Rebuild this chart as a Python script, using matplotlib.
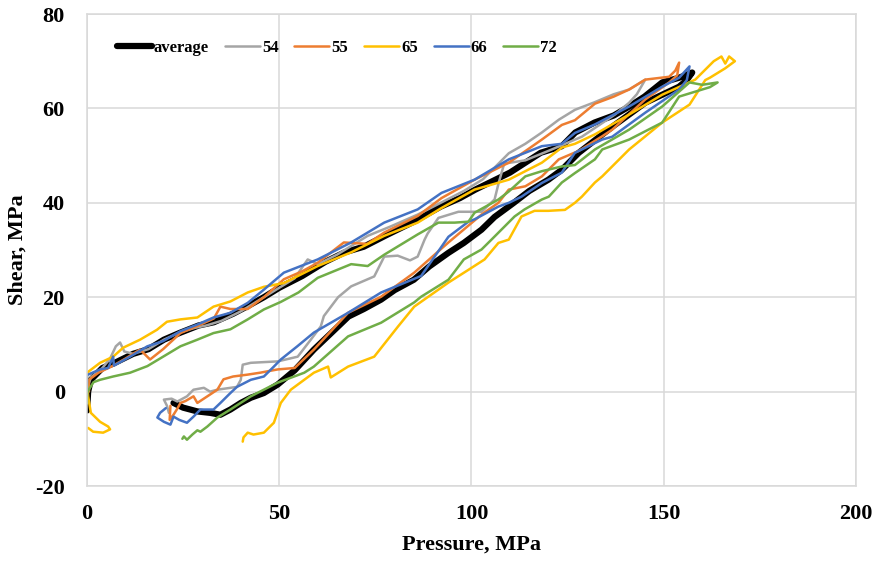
import matplotlib
matplotlib.use("Agg")
import matplotlib.pyplot as plt

plt.rcParams["font.family"] = ["Liberation Serif", "DejaVu Serif"]
plt.rcParams["font.weight"] = "bold"
plt.rcParams["axes.unicode_minus"] = False

# (pressure MPa, shear MPa): loading branch, then unloading branch
avg_pts = [
    (0, -4), (0.3, 0), (1, 2.5), (4, 5), (7, 6), (12, 8), (16, 9), (20, 11), (24, 12.4),
    (29, 14), (33, 14.7), (38, 16.5), (42, 18.2), (46, 20), (50, 22), (56, 24.5), (62, 27.5),
    (67, 29.5), (72, 30.7), (78, 33.2), (85, 36), (92, 39.2), (97, 41), (101, 42.8),
    (106, 44.8), (110, 46.4), (118, 50.6), (123.5, 52), (127, 54.9), (132, 57), (137, 58.5),
    (141, 60.4), (145, 62.5), (149.6, 65.5), (154, 66.5), (157.4, 67.6),
    (156, 66), (154, 64.6), (145.2, 61.2), (136.6, 56.1), (127.9, 50.6), (123.5, 47),
    (120, 44.9), (115, 42.5), (111, 40), (106, 37), (102.6, 34.3), (98, 31.5), (94, 29.4),
    (89, 26.5), (85, 23.7), (80, 21.5), (76.5, 19.5), (72, 17.5), (68, 15.9), (63, 12),
    (59, 8.9), (54, 4.5), (49.6, 1.5), (46, -0.3), (42.6, -1.3), (40, -2.4), (37.3, -3.8),
    (34.7, -4.9), (32, -4.5), (28.7, -4.2), (25, -3.4), (22.5, -2.4),
]

s54_pts = [
    (0, 0.5), (1, 3), (4, 5), (6, 7), (7.5, 9.6), (8.6, 10.4), (9.7, 8.5), (12, 8), (16, 9),
    (20, 11), (24, 12.5), (28, 13.5), (31, 14), (35, 15), (40, 17), (46, 20), (50, 22),
    (54, 24), (57.4, 28), (60, 27), (65, 29), (73, 33), (79, 35), (86, 37.5), (92, 40),
    (98, 42.5), (103, 45), (109.7, 50.5), (114, 52.5), (118.3, 54.9), (122.7, 57.6),
    (126.9, 59.7), (132, 61.3), (137, 63), (141, 64), (145.2, 66.1),
    (143, 63), (141, 61.2), (137.3, 58.7), (128.7, 54), (120, 51), (114, 49), (108.5, 48.3),
    (107, 44), (106, 40.7), (102.6, 38.1), (96.6, 38.1), (91.4, 36.8), (88.6, 33.5),
    (87.8, 32.2), (86, 28.6), (84, 27.8), (80.8, 28.8), (77.3, 28.6), (76.5, 27.3),
    (74.7, 24.4), (68.7, 22.3), (65.3, 20), (61.6, 16), (60.8, 13.8), (58.2, 11),
    (54.8, 7.4), (49.6, 6.4), (42.6, 6.1), (40.5, 5.7), (40, 2.5), (39, 1), (33.9, 0.4),
    (32, 0), (30.4, 0.8), (27.7, 0.4), (26, -1), (23.5, -2.1), (22, -1.5), (20, -1.7),
    (20.8, -3), (21.3, -4.5),
]

s55_pts = [
    (0.5, 0), (0.5, 2.5), (3, 4), (6.8, 5.5), (10, 7), (13.8, 8.9), (16.4, 6.8), (19.8, 9),
    (24.3, 12.4), (29, 14), (33, 15.5), (34.7, 18), (37.3, 17.5), (41.8, 17.5), (46, 20),
    (51.2, 23.8), (56, 25.5), (60, 27.3), (66.8, 31.6), (72.9, 31.3), (77.3, 33.7),
    (86, 37.2), (92.2, 41), (100.8, 44.9), (109.7, 48.5), (118.3, 53.4), (123.5, 56.5),
    (126.9, 57.5), (132.1, 61), (137, 62.5), (141, 64), (145.2, 66.1), (151.4, 66.7),
    (153, 68), (154, 69.7),
    (153.5, 67), (151.4, 65.5), (145.2, 61.9), (136.6, 55.5), (134, 54.1), (127.9, 51),
    (122.7, 49.2), (118.3, 45.6), (114, 43.5), (109.7, 42.8), (107, 40), (102.6, 37.5),
    (94, 31.6), (85.1, 25.2), (76.5, 20.1), (67.9, 16.7), (59, 8.9), (54, 5), (49.6, 4.7),
    (45, 4), (41.8, 3.6), (38, 3.2), (35.5, 2.6), (33.9, 0.4), (31.3, -1), (28.7, -2.4),
    (27.7, -1), (25.6, -2), (24.3, -2.4), (23.5, -3.6), (22.5, -4.9), (21.5, -6), (21.7, -3),
]

s65_pts = [
    (0.3, -7.7), (1.6, -8.5), (4.2, -8.7), (6, -8), (5.5, -7.4), (3.4, -6.4), (1, -4.5),
    (0.3, -1), (0, 2), (0, 4), (3.4, 6.1), (6.8, 7.4), (9.4, 9.3), (13.8, 11), (18.2, 13.1),
    (20.8, 14.8), (24.3, 15.3), (28.7, 15.7), (32.9, 18), (37.3, 19.1), (41.8, 21),
    (46, 22.2), (51.2, 23), (60, 26.6), (68.7, 29.5), (77.3, 33), (86, 35.8), (92.2, 38.9),
    (100.8, 42.8), (109.7, 44.9), (118.3, 48.5), (123.5, 51.7), (126.9, 52.5), (132.1, 54.5),
    (141, 58.7), (149.6, 62.9), (158.2, 66.1), (163, 70), (165, 71), (166, 69.5), (167, 71),
    (168.5, 70),
    (166, 68.5), (162, 66.5), (160.8, 66), (156.7, 60.8), (149.6, 57), (141, 51.3),
    (134, 45.6), (132.1, 44.3), (128.7, 41.3), (126.9, 40), (124.3, 38.5), (120, 38.3),
    (116.4, 38.3), (113, 37.1), (109.7, 32.2), (107, 31.5), (103.4, 28), (99.2, 25.8),
    (94, 23.1), (85.1, 18), (80.9, 13.8), (74.7, 7.4), (67.9, 5.3), (63.4, 3), (62.7, 5.3),
    (59, 4), (53, 0.4), (50.4, -2.4), (48.6, -6.6), (46, -8.7), (43.3, -9.1), (41.8, -8.7),
    (40.7, -9.7), (40.5, -10.6),
]

s66_pts = [
    (0, -1), (0, 3.5), (3.4, 4.7), (5.5, 5), (6.8, 7.4), (7, 5.5), (11.2, 7.4), (15.7, 9.6),
    (19.8, 10.7), (24.3, 12.8), (28.7, 14.2), (32.9, 15.7), (37.3, 16.7), (41.8, 18.8),
    (46, 21.6), (51.2, 25.2), (60, 28), (68.7, 31.6), (77.3, 35.8), (86, 38.6), (92.2, 42.1),
    (100.8, 44.9), (109.7, 49.2), (118.3, 52), (123.5, 52.5), (126.9, 54.8), (132.1, 56.6),
    (141, 60.4), (149.6, 64.6), (154, 66.5), (156.7, 68.9),
    (156, 66), (154, 64), (145.2, 59.1), (136.6, 54), (134, 53.4), (126.9, 50.6),
    (123.5, 46.4), (118.3, 44.2), (113, 41.3), (109.7, 40), (107, 39.2), (100.8, 36.5),
    (99.2, 36), (94, 32.8), (86.9, 24.5), (76.5, 21), (67.9, 16.7), (59, 12.5), (54.7, 9.6),
    (50.4, 6.8), (48.6, 5.3), (46, 3.2), (42.6, 2.5), (39, 1), (37.3, -0.3), (34.7, -2.4),
    (32.9, -3.8), (29.5, -3.8), (27.7, -5.3), (26, -6.6), (24, -6), (22.5, -5.3),
    (21.7, -7), (20, -6.4), (18.3, -5.5), (19, -4.5), (20.5, -3.5),
]

s72_pts = [
    (0, -2.5), (0, -0.2), (1.7, 2), (3.4, 2.5), (6.8, 3.2), (11.2, 4), (15.7, 5.4),
    (19.8, 7.4), (24.3, 9.6), (28.7, 11), (32.9, 12.4), (37.3, 13.2), (41.8, 15.3),
    (46, 17.4), (50.4, 19), (55, 21), (60, 24.1), (68.7, 27), (73, 26.6), (77.3, 29),
    (86, 33.3), (91.4, 35.8), (95.6, 35.8), (99.2, 36), (100.8, 37.9), (107, 40.7),
    (109.7, 42.4), (114, 45.6), (118.3, 46.7), (123.5, 47.7), (126.9, 48), (132.1, 51.3),
    (141, 55.5), (149.6, 60.4), (156.7, 65.5), (160, 65), (164, 65.5),
    (162, 64.5), (160, 64), (154, 62.5), (149.6, 57), (141, 53.4), (134, 51.3),
    (132.1, 49.2), (126.9, 46.3), (123.5, 44.3), (120.1, 41.3), (118.3, 40.7),
    (113.8, 38.6), (111.2, 37.1), (105.2, 32.2), (102.6, 30.1), (98, 28), (94, 23.7),
    (86.9, 20.1), (85.1, 18.9), (76.5, 14.6), (67.9, 11.7), (59, 5.3), (56.5, 4),
    (49.6, 1.9), (42.6, -1), (37.3, -3.8), (33.9, -5.5), (31.3, -7.4), (29.5, -8.5),
    (28.7, -8.2), (27.4, -9.1), (26, -10.2), (25.2, -9.5), (24.8, -10),
]

labels = ["average", "54", "55", "65", "66", "72"]
colors = ["black", "#A5A5A5", "#ED7D31", "#FFC000", "#4472C4", "#70AD47"]
widths = [4.5, 1.8, 1.8, 1.8, 1.8, 1.8]
paths = [avg_pts, s54_pts, s55_pts, s65_pts, s66_pts, s72_pts]

x_ticks = [0, 50, 100, 150, 200]
y_ticks = [-20, 0, 20, 40, 60, 80]

grid_color = "#D9D9D9"

fig = plt.figure(figsize=(8.78, 5.62), dpi=100)
ax = fig.add_axes([87 / 878, 76 / 562, 769 / 878, 472 / 562])

for label, pts, color, lw in zip(labels, paths, colors, widths):
    px = [p for p, _ in pts]
    sy = [s for _, s in pts]
    ax.plot(px, sy, color=color, lw=lw, label=label,
            solid_joinstyle="round", solid_capstyle="round")

ax.set_xlim(x_ticks[0], x_ticks[-1])
ax.set_ylim(y_ticks[0], y_ticks[-1])
ax.set_xticks(x_ticks)
ax.set_yticks(y_ticks)
ax.grid(True, color=grid_color, lw=1.1)
ax.set_axisbelow(True)
for sp in ax.spines.values():
    sp.set_color(grid_color)
    sp.set_linewidth(1.1)

ax.tick_params(axis="both", length=0, labelsize=16)
ax.tick_params(axis="x", pad=13)
ax.tick_params(axis="y", pad=16)

ax.set_xlabel("Pressure, MPa", fontsize=16, fontweight="bold")
ax.set_ylabel("Shear, MPa", fontsize=16, fontweight="bold")
ax.xaxis.set_label_coords(0.5, -0.104)
ax.yaxis.set_label_coords(-0.077, 0.5)

ax.legend(loc="center left", bbox_to_anchor=(0.039, 0.928), ncol=6, frameon=False,
          fontsize=12, handlelength=2.1, handletextpad=0.12, columnspacing=0.95,
          borderpad=0, borderaxespad=0)

fig.savefig("out.png", dpi=100)
